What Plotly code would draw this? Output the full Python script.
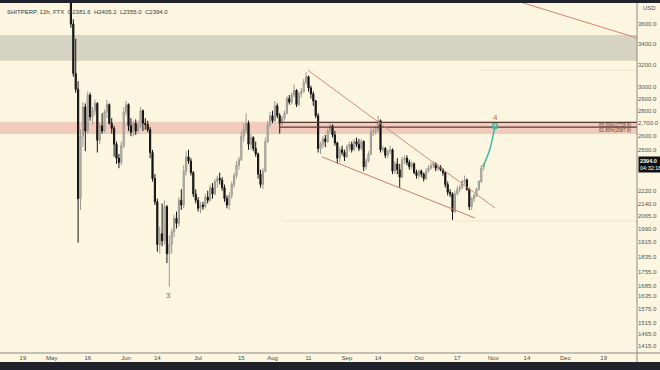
import math
import pandas as pd
import plotly.graph_objects as go

# ---------------- data ----------------
dates = pd.date_range("2021-05-09", periods=173, freq="D")

opens = [4050, 3600, 3120, 2980, 2170, 2600, 2830, 2640, 2930, 2750, 2800, 2860, 2570, 2680, 2640, 2790, 2850, 2700, 2660, 2540,
         2440, 2410, 2530, 2790, 2850, 2680, 2630, 2700, 2640, 2680, 2800, 2700, 2690, 2650, 2480, 2300, 2150, 1900, 1960, 1920,
         2120, 1850, 1900, 1970, 2050, 2020, 2160, 2130, 2350, 2450, 2420, 2340, 2200, 2160, 2110, 2130, 2120, 2180, 2160, 2240,
         2200, 2280, 2300, 2290, 2240, 2170, 2130, 2190, 2260, 2320, 2390, 2430, 2600, 2650, 2700, 2540, 2590, 2510, 2470, 2330,
         2260, 2350, 2560, 2690, 2760, 2720, 2840, 2760, 2700, 2740, 2780, 2900, 2870, 2930, 2970, 2850, 2940, 2960, 3040, 3090,
         2990, 2940, 2880, 2760, 2510, 2540, 2580, 2560, 2640, 2680, 2610, 2550, 2440, 2500, 2480, 2450, 2520, 2540, 2500, 2560,
         2540, 2510, 2560, 2380, 2420, 2470, 2630, 2640, 2650, 2720, 2500, 2510, 2460, 2490, 2500, 2350, 2400, 2360, 2310, 2430,
         2440, 2410, 2380, 2400, 2340, 2320, 2350, 2330, 2300, 2350, 2370, 2390, 2400, 2370, 2380, 2360, 2340, 2260, 2210, 2200,
         2090, 2200, 2230, 2240, 2280, 2290, 2230, 2120, 2170, 2190, 2230, 2280, 2381.6]
highs = [4120, 3650, 3450, 3050, 2650, 2870, 2860, 2960, 2950, 2830, 2890, 2870, 2700, 2780, 2810, 2890, 2860, 2740, 2680, 2560,
         2470, 2560, 2830, 2880, 2860, 2740, 2720, 2730, 2720, 2830, 2810, 2740, 2720, 2670, 2500, 2330, 2170, 2000, 2140, 2160,
         2130, 1950, 1990, 2070, 2090, 2180, 2230, 2390, 2490, 2500, 2440, 2350, 2230, 2180, 2150, 2150, 2200, 2220, 2260, 2270,
         2300, 2320, 2340, 2310, 2260, 2190, 2210, 2280, 2340, 2420, 2450, 2640, 2700, 2780, 2720, 2620, 2600, 2560, 2480, 2360,
         2370, 2590, 2720, 2790, 2800, 2880, 2860, 2780, 2760, 2800, 2920, 2930, 2950, 3020, 2980, 2960, 2990, 3070, 3130, 3100,
         3010, 2960, 2890, 2780, 2560, 2600, 2610, 2660, 2700, 2690, 2640, 2560, 2520, 2530, 2500, 2540, 2560, 2560, 2580, 2590,
         2580, 2580, 2570, 2440, 2490, 2660, 2660, 2680, 2760, 2730, 2530, 2520, 2500, 2530, 2510, 2420, 2440, 2400, 2450, 2460,
         2460, 2430, 2420, 2410, 2360, 2360, 2360, 2340, 2370, 2390, 2410, 2420, 2410, 2400, 2390, 2370, 2350, 2280, 2230, 2210,
         2220, 2250, 2260, 2290, 2320, 2300, 2240, 2180, 2200, 2240, 2290, 2390, 2405.2]
lows = [3560, 3090, 2950, 1910, 2100, 2520, 2490, 2620, 2720, 2690, 2760, 2480, 2540, 2620, 2630, 2740, 2690, 2620, 2450, 2400,
        2370, 2390, 2510, 2760, 2640, 2600, 2600, 2610, 2620, 2660, 2640, 2650, 2630, 2440, 2280, 2130, 1860, 1850, 1890, 1900,
        1800, 1680, 1850, 1940, 1990, 2000, 2100, 2110, 2320, 2400, 2320, 2180, 2140, 2090, 2080, 2100, 2110, 2140, 2150, 2170,
        2190, 2240, 2260, 2220, 2150, 2110, 2100, 2170, 2240, 2300, 2360, 2420, 2560, 2620, 2500, 2500, 2490, 2450, 2300, 2240,
        2230, 2340, 2550, 2670, 2700, 2710, 2740, 2620, 2680, 2720, 2770, 2850, 2850, 2910, 2830, 2840, 2910, 2950, 3020, 2960,
        2900, 2840, 2740, 2480, 2470, 2510, 2520, 2550, 2620, 2590, 2530, 2400, 2410, 2460, 2420, 2440, 2490, 2480, 2490, 2520,
        2490, 2500, 2350, 2360, 2410, 2460, 2600, 2610, 2630, 2480, 2480, 2440, 2440, 2470, 2330, 2330, 2330, 2240, 2300, 2400,
        2390, 2360, 2360, 2330, 2300, 2300, 2310, 2280, 2290, 2340, 2360, 2370, 2350, 2350, 2350, 2320, 2240, 2190, 2180, 2040,
        2080, 2190, 2210, 2230, 2260, 2220, 2100, 2100, 2150, 2180, 2220, 2270, 2355]
closes = [3600, 3120, 2980, 2170, 2600, 2830, 2640, 2930, 2750, 2800, 2860, 2570, 2680, 2640, 2790, 2850, 2700, 2660, 2540, 2440,
          2410, 2530, 2790, 2850, 2680, 2630, 2700, 2640, 2680, 2800, 2700, 2690, 2650, 2480, 2300, 2150, 1900, 1960, 1920, 2120,
          1850, 1900, 1970, 2050, 2020, 2160, 2130, 2350, 2450, 2420, 2340, 2200, 2160, 2110, 2130, 2120, 2180, 2160, 2240, 2200,
          2280, 2300, 2290, 2240, 2170, 2130, 2190, 2260, 2320, 2390, 2430, 2600, 2650, 2700, 2540, 2590, 2510, 2470, 2330, 2260,
          2350, 2560, 2690, 2760, 2720, 2840, 2760, 2700, 2740, 2780, 2900, 2870, 2930, 2970, 2850, 2940, 2960, 3040, 3090, 2990,
          2940, 2880, 2760, 2510, 2540, 2580, 2560, 2640, 2680, 2610, 2550, 2440, 2500, 2480, 2450, 2520, 2540, 2500, 2560, 2540,
          2510, 2560, 2380, 2420, 2470, 2630, 2640, 2650, 2720, 2500, 2510, 2460, 2490, 2500, 2350, 2400, 2360, 2310, 2430, 2440,
          2410, 2380, 2400, 2340, 2320, 2350, 2330, 2300, 2350, 2370, 2390, 2400, 2370, 2380, 2360, 2340, 2260, 2210, 2200, 2090,
          2200, 2230, 2240, 2280, 2290, 2230, 2120, 2170, 2190, 2230, 2280, 2370, 2394]

y_tick_values = [3600, 3400, 3200, 3000, 2900, 2800, 2700, 2600, 2500, 2220, 2140, 2065, 1990, 1915, 1835, 1755,
                 1685, 1635, 1575, 1515, 1465, 1415]
y_tick_labels = ["3600.0", "3400.0", "3200.0", "3000.0", "2900.0", "2800.0", "2,700.0", "2600.0", "2500.0", "2220.0",
                 "2140.0", "2065.0", "1990.0", "1915.0", "1835.0", "1755.0", "1685.0", "1635.0", "1575.0", "1515.0",
                 "1465.0", "1415.0"]
x_tick_dates = ["2021-04-19", "2021-05-01", "2021-05-16", "2021-06-01", "2021-06-14", "2021-07-01", "2021-07-19",
                "2021-08-01", "2021-08-16", "2021-09-01", "2021-09-14", "2021-10-01", "2021-10-17", "2021-11-01",
                "2021-11-15", "2021-12-01", "2021-12-17"]
x_tick_labels = ["19", "May", "16", "Jun", "14", "Jul", "15", "Aug", "11", "Sep", "14", "Oct", "17", "Nov", "14", "Dec", "19"]

grey_zone = [3237, 3487]
pink_zone = [2617, 2712]
fib_levels = [2706, 2670]
fib_labels = ["65.00%(2728.8)", "61.80%(2687.8)"]
fib_start = "2021-08-04"
faint_levels = [3148, 2034]
faint_starts = ["2021-10-26", "2021-08-05"]

wedge_upper_x = ["2021-08-15 19:00", "2021-11-01 17:00"]
wedge_upper_y = [3148, 2112]
wedge_lower_x = ["2021-08-21 14:00", "2021-10-24 10:00"]
wedge_lower_y = [2449, 2051]
trend_x = ["2021-10-26 11:00", "2021-12-30 21:00"]
trend_y = [3977, 3457]
proj_x = ["2021-10-27 17:00", "2021-10-30 12:00", "2021-11-01 17:00"]
proj_y = [2380, 2500, 2679]

last_price = "2394.0"
countdown = "04:32:18"
header = "SHITPERP, 12h, FTX  O2381.6  H2405.2  L2355.0  C2394.0"

x_start, x_end = "2021-04-09 10:48", "2021-12-30 21:00"
y_low, y_high = 1387, 3826

BG = "#fcf5df"
FONT = "Liberation Sans"

fig = go.Figure()

fig.add_trace(go.Candlestick(
    x=dates, open=opens, high=highs, low=lows, close=closes,
    increasing=dict(line=dict(color="#9c9a92", width=1), fillcolor="#c9c6bb"),
    decreasing=dict(line=dict(color="#141414", width=1), fillcolor="#141414"),
    whiskerwidth=0, showlegend=False, hoverinfo="skip"))

for lvl in fib_levels:
    fig.add_trace(go.Scatter(x=[fib_start, x_end], y=[lvl, lvl], mode="lines",
                             line=dict(color="#5a3a30", width=1.3), showlegend=False, hoverinfo="skip"))
for lvl, st in zip(faint_levels, faint_starts):
    fig.add_trace(go.Scatter(x=[st, x_end], y=[lvl, lvl], mode="lines",
                             line=dict(color="#f1e3c9", width=1), showlegend=False, hoverinfo="skip"))

fig.add_trace(go.Scatter(x=wedge_upper_x, y=wedge_upper_y, mode="lines",
                         line=dict(color="#d98a78", width=1), showlegend=False, hoverinfo="skip"))
fig.add_trace(go.Scatter(x=wedge_lower_x, y=wedge_lower_y, mode="lines",
                         line=dict(color="#cf7d6c", width=1), showlegend=False, hoverinfo="skip"))
fig.add_trace(go.Scatter(x=trend_x, y=trend_y, mode="lines",
                         line=dict(color="#d9826f", width=1), showlegend=False, hoverinfo="skip"))
fig.add_trace(go.Scatter(x=proj_x, y=proj_y, mode="lines", line=dict(color="#3fb8a3", width=1.5, shape="spline"),
                         showlegend=False, hoverinfo="skip"))
fig.add_trace(go.Scatter(x=[proj_x[-1]], y=[proj_y[-1]], mode="markers",
                         marker=dict(size=5, color="rgba(0,0,0,0)", line=dict(color="#3fb8a3", width=1.5)),
                         showlegend=False, hoverinfo="skip"))

shapes = [
    dict(type="rect", xref="paper", yref="y", x0=0, x1=1, y0=grey_zone[0], y1=grey_zone[1],
         fillcolor="#d8d4c3", line=dict(width=0), layer="below"),
    dict(type="rect", xref="paper", yref="y", x0=0, x1=1, y0=pink_zone[0], y1=pink_zone[1],
         fillcolor="#f1cbbb", line=dict(width=0), layer="below"),
    dict(type="rect", xref="paper", yref="paper", x0=-0.01, x1=1.05, y0=1.0, y1=1.03,
         fillcolor="#1f212b", line=dict(width=0)),
    dict(type="rect", xref="paper", yref="paper", x0=-0.01, x1=1.05, y0=-0.026, y1=-0.07,
         fillcolor="#1f212b", line=dict(width=0)),
    dict(type="line", xref="paper", yref="paper", x0=0, x1=1.04, y0=0, y1=0,
         line=dict(color="#8a8a86", width=1)),
    dict(type="line", xref="paper", yref="paper", x0=1, x1=1, y0=-0.026, y1=1,
         line=dict(color="#8a8a86", width=1)),
]

annotations = [
    dict(xref="paper", yref="paper", x=0.008, y=0.975, xanchor="left", yanchor="middle", text=header,
         showarrow=False, font=dict(size=6, color="#3a3a3a", family=FONT)),
    dict(xref="paper", yref="paper", x=1, y=0.986, xanchor="left", yanchor="middle", xshift=4, text="USD",
         showarrow=False, font=dict(size=6, color="#555", family=FONT)),
    dict(xref="paper", yref="y", x=1, y=math.log10(2394), xanchor="left", yanchor="middle", xshift=1,
         text=f"<b>{last_price}</b><br>{countdown}", showarrow=False, bgcolor="#111111", borderpad=1,
         align="left", font=dict(size=5.5, color="#ffffff", family=FONT)),
    dict(x="2021-06-18 11:00", y=math.log10(1640), text="3", showarrow=False,
         font=dict(size=8, color="#d44a3a", family=FONT)),
    dict(x="2021-11-01 17:00", y=math.log10(2749), text="4", showarrow=False,
         font=dict(size=8, color="#b86a55", family=FONT)),
]
for lvl, lab in zip(fib_levels, fib_labels):
    annotations.append(dict(xref="paper", yref="y", x=0.995, y=math.log10(lvl), xanchor="right", yanchor="top",
                            yshift=1, text=lab, showarrow=False,
                            font=dict(size=4.5, color="#5a3a30", family=FONT)))

fig.update_layout(
    width=660, height=370,
    margin=dict(l=0, r=23, t=3, b=17),
    paper_bgcolor=BG, plot_bgcolor=BG,
    shapes=shapes, annotations=annotations,
    showlegend=False,
    xaxis=dict(type="date", range=[x_start, x_end], rangeslider=dict(visible=False),
               tickvals=x_tick_dates, ticktext=x_tick_labels, showgrid=False, zeroline=False,
               ticks="", tickfont=dict(size=6, color="#4a4a4a", family=FONT), showline=False),
    yaxis=dict(type="log", range=[math.log10(y_low), math.log10(y_high)], side="right",
               tickvals=y_tick_values, ticktext=y_tick_labels, showgrid=False, zeroline=False,
               ticks="", tickfont=dict(size=6, color="#555", family=FONT), showline=False),
)

fig.write_html("out.html", config={"displayModeBar": False, "staticPlot": True},
               post_script="document.body.style.margin='0';document.body.style.padding='0';"
                           "document.body.style.overflow='hidden';")
